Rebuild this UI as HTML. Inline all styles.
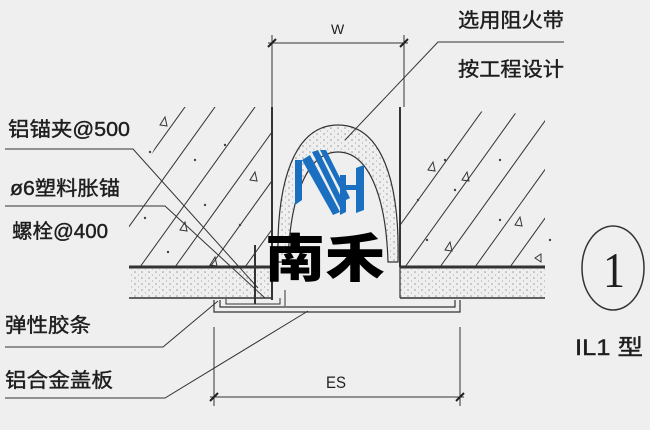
<!DOCTYPE html>
<html><head><meta charset="utf-8"><style>
html,body{margin:0;padding:0;background:#efefef;}
svg{display:block}
.t{font-family:"Liberation Sans","Noto Sans CJK SC",sans-serif;fill:#1e1e1e;stroke:#1e1e1e;stroke-width:0.4;font-size:20px;}
</style></head><body>
<svg width="650" height="430" viewBox="0 0 650 430" xmlns="http://www.w3.org/2000/svg">
<defs>
<clipPath id="cl"><polygon points="129,200 175,107 272,107 272,267 129,267"/></clipPath>
<clipPath id="cr"><polygon points="400,107 545,115 545,267 400,267"/></clipPath>
<pattern id="dots" width="7" height="6" patternUnits="userSpaceOnUse"><circle cx="2" cy="2" r="0.8" fill="#999"/><circle cx="5.5" cy="5" r="0.6" fill="#aaa"/></pattern>
</defs>
<rect width="650" height="430" fill="#efefef"/>
<g stroke="#333" stroke-width="1" fill="none">
<g clip-path="url(#cl)">
<line x1="100" y1="267" x2="220" y2="100"/><line x1="140" y1="267" x2="260" y2="100"/><line x1="175" y1="267" x2="295" y2="100"/><line x1="210" y1="267" x2="330" y2="100"/><line x1="245" y1="267" x2="365" y2="100"/><line x1="70" y1="267" x2="190" y2="100"/>
</g>
<g clip-path="url(#cr)">
<line x1="405" y1="267" x2="525" y2="100"/><line x1="440" y1="267" x2="560" y2="100"/><line x1="475" y1="267" x2="595" y2="100"/><line x1="510" y1="267" x2="630" y2="100"/><line x1="370" y1="267" x2="490" y2="100"/>
</g>
<!-- triangles -->
<g stroke-width="1">
<path d="M160,125 l5,-8 l2,9 z"/><path d="M250,180 l5,-8 l2,9 z"/><path d="M180,230 l5,-8 l2,9 z"/><path d="M210,265 l5,-8 l2,9 z"/><path d="M182,282 l0,0"/>
<path d="M428,170 l5,-8 l2,9 z"/><path d="M462,180 l5,-8 l2,9 z"/><path d="M515,225 l5,-8 l2,9 z"/><path d="M445,250 l5,-8 l2,9 z"/><path d="M535,258 l6,-4 l0,8 z"/>
</g>
</g>
<g fill="#444">
<circle cx="150" cy="152" r="1.2"/><circle cx="195" cy="160" r="1.2"/><circle cx="225" cy="145" r="1.2"/><circle cx="145" cy="218" r="1.2"/><circle cx="205" cy="205" r="1.2"/><circle cx="168" cy="252" r="1.2"/><circle cx="240" cy="225" r="1.2"/>
<circle cx="445" cy="160" r="1.2"/><circle cx="455" cy="190" r="1.2"/><circle cx="500" cy="160" r="1.2"/><circle cx="427" cy="240" r="1.2"/><circle cx="500" cy="220" r="1.2"/><circle cx="550" cy="240" r="1.2"/><circle cx="418" cy="200" r="1.2"/>
</g>
<g stroke="#333" stroke-width="1" fill="none">
<rect x="129" y="269" width="143" height="28" fill="url(#dots)" stroke="none"/>
<rect x="400" y="269" width="145" height="28" fill="url(#dots)" stroke="none"/>
<line x1="129" y1="267" x2="272" y2="267" stroke-width="3"/>
<line x1="400" y1="267" x2="545" y2="267" stroke-width="3"/>
<line x1="129" y1="298" x2="272" y2="298" stroke-width="1.5"/>
<line x1="400" y1="298" x2="545" y2="298" stroke-width="1.5"/>
<line x1="272" y1="107" x2="272" y2="300" stroke-width="2"/>
<line x1="400" y1="107" x2="400" y2="267" stroke-width="2"/>
<line x1="400" y1="267" x2="400" y2="298" stroke-width="1.2"/>
<path d="M278,262 C276,180 295,125 338,125 C381,125 400,180 398,262 L388,262 C386,195 368,152 338,152 C308,152 290,195 288,262 Z" fill="url(#dots)" stroke-width="1.2"/>
<path d="M214,300 L214,312 L460,312 L460,300 M220,300 L220,307 L455,307 L455,300" stroke-width="1.2"/>
<path d="M226,299 L226,304 L280,304 L280,298 M285,306 L285,290" stroke-width="1"/>
<line x1="255" y1="245" x2="255" y2="304" stroke-width="2"/>
<line x1="268" y1="43" x2="408" y2="43"/>
<line x1="272" y1="35" x2="272" y2="107"/>
<line x1="404" y1="35" x2="404" y2="107"/>
<line x1="210" y1="397" x2="464" y2="397"/>
<line x1="214" y1="327" x2="214" y2="406"/>
<line x1="460" y1="327" x2="460" y2="406"/>
<polyline points="5,149 133,149 258,288"/>
<polyline points="5,206 165,206 265,298"/>
<polyline points="5,347 163,347 218,301"/>
<polyline points="5,398 165,398 308,311"/>
<polyline points="564,42 438,42 345,140"/>
<ellipse cx="613" cy="268" rx="31" ry="42" stroke-width="1.5"/>
</g>
<g stroke="#222" stroke-width="2"><line x1="268" y1="47" x2="276" y2="39"/><line x1="400" y1="47" x2="408" y2="39"/><line x1="210" y1="401" x2="218" y2="393"/><line x1="456" y1="401" x2="464" y2="393"/></g>
<g class="t">
<text x="8" y="136" textLength="122" lengthAdjust="spacingAndGlyphs">铝锚夹@500</text>
<text x="10" y="195" textLength="110" lengthAdjust="spacingAndGlyphs">ø6塑料胀锚</text>
<text x="12" y="238" textLength="96" lengthAdjust="spacingAndGlyphs">螺栓@400</text>
<text x="5" y="332" textLength="86" lengthAdjust="spacingAndGlyphs">弹性胶条</text>
<text x="5" y="387" textLength="108" lengthAdjust="spacingAndGlyphs">铝合金盖板</text>
<text x="458" y="27" textLength="106" lengthAdjust="spacingAndGlyphs">选用阻火带</text>
<text x="458" y="76" textLength="106" lengthAdjust="spacingAndGlyphs">按工程设计</text>
<text x="326" y="388" font-size="17" stroke-width="0" textLength="20" lengthAdjust="spacingAndGlyphs">ES</text>
<text x="331" y="34" font-size="14" stroke-width="0">W</text>
<text x="575" y="355" font-size="22" textLength="68" lengthAdjust="spacingAndGlyphs">IL1 型</text>
<text x="603" y="287" font-size="50" stroke-width="0" font-family="Liberation Serif,serif" textLength="22" lengthAdjust="spacingAndGlyphs">1</text>
</g>
<g fill="#1a6fc0">
<polygon points="295,160 302,160 302,200 295,205"/>
<polygon points="302,160 310,155 340,212 333,215"/>
<polygon points="312,152 318,150 345,205 340,208"/>
<polygon points="320,150 326,150 350,198 346,200"/>
<polygon points="340,185 360,185 360,190 340,190"/>
<polygon points="356,168 364,165 364,210 356,213"/>
<polygon points="340,175 346,175 346,212 340,215"/>
</g>
<text x="265" y="277" font-family="'Noto Sans CJK SC',sans-serif" font-weight="900" font-size="52" fill="#000" textLength="120" lengthAdjust="spacingAndGlyphs">南禾</text>
</svg>
</body></html>
